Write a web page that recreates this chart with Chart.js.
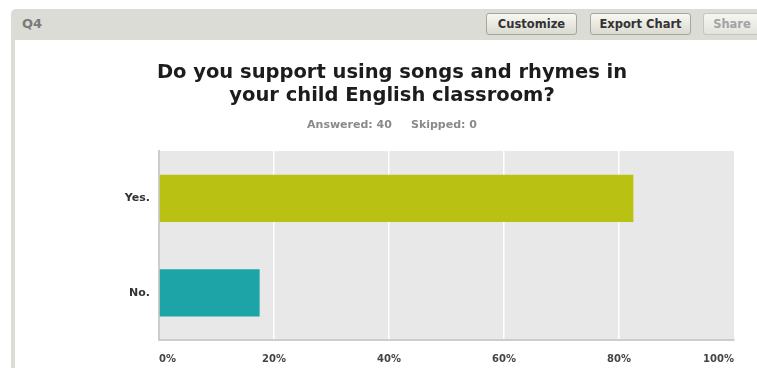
<!DOCTYPE html>
<html>
<head>
<meta charset="utf-8">
<script src="https://cdn.jsdelivr.net/npm/chart.js@4"></script>
<style>
  body{margin:0;background:#fff;width:757px;height:368px;overflow:hidden;position:relative;font-family:"DejaVu Sans",sans-serif;}
  .panel{position:absolute;left:11px;top:9px;width:800px;height:400px;background:#dcdcd6;border-radius:5px 5px 0 0;}
  .panel .inner{position:absolute;left:4px;top:31px;right:0;bottom:0;background:#fff;}
  .qnum{position:absolute;left:11px;top:8px;font-weight:bold;font-size:13px;line-height:13px;color:#7a7a7a;}
  .btn{position:absolute;top:4px;height:20px;box-sizing:content-box;border:1px solid #a6a69e;border-radius:3px;
       background:linear-gradient(#f8f8f3,#dadad1);display:flex;align-items:center;justify-content:center;
       font-weight:bold;font-size:11.5px;color:#333;}
  .btn.off{color:#a3a3a3;border-color:#c6c6be;background:linear-gradient(#f6f6f2,#e4e4dd);}
  #chart{position:absolute;left:15px;top:40px;}
</style>
</head>
<body>
<div class="panel">
  <div class="qnum">Q4</div>
  <div class="btn" style="left:475px;width:89px;">Customize</div>
  <div class="btn" style="left:579px;width:99px;">Export Chart</div>
  <div class="btn off" style="left:692px;width:56px;">Share</div>
  <div class="inner"></div>
</div>
<canvas id="chart" width="742" height="328"></canvas>
<script>
// answers
const categories = ["Yes.", "No."];
const responsePct = [82.5, 17.5];
const barColors = ["#b9c212", "#1ca4a6"];
const xTicks = [0, 20, 40, 60, 80, 100];
const titleLines = ["Do you support using songs and rhymes in", "your child English classroom?"];
const answered = 40;
const skipped = 0;

const FONT = "DejaVu Sans";

// grey plot area behind the bars
const plotBackground = {
  id: "plotBackground",
  beforeDraw(chart){
    const {ctx, chartArea: a} = chart;
    ctx.save();
    ctx.fillStyle = "#e8e8e8";
    ctx.fillRect(a.left, a.top, a.right - a.left, a.bottom - a.top);
    ctx.restore();
  }
};

new Chart(document.getElementById("chart"), {
  type: "bar",
  data: {
    labels: categories,
    datasets: [{
      data: responsePct,
      backgroundColor: barColors,
      borderWidth: 0,
      categoryPercentage: 1,
      barPercentage: 0.5
    }]
  },
  plugins: [plotBackground],
  options: {
    indexAxis: "y",
    responsive: false,
    animation: false,
    devicePixelRatio: 1,
    layout: {padding: {left: 35, right: 23, top: 0, bottom: 0}},
    plugins: {
      legend: {display: false},
      tooltip: {enabled: false},
      title: {
        display: true,
        text: titleLines,
        color: "#1c1c1c",
        font: {family: FONT, weight: "bold", size: 19.5, lineHeight: 1.2},
        padding: {top: 21, bottom: 4}
      },
      subtitle: {
        display: true,
        text: `Answered: ${answered}     Skipped: ${skipped}`,
        color: "#8a8a8a",
        font: {family: FONT, weight: "bold", size: 11, lineHeight: 1.2},
        padding: {top: 7, bottom: 19}
      }
    },
    scales: {
      x: {
        min: 0,
        max: 100,
        afterBuildTicks: s => { s.ticks = xTicks.map(v => ({value: v})); },
        afterFit: s => { s.height = 28; },
        grid: {
          drawTicks: false,
          lineWidth: 1.5,
          color: c => (c.tick && c.tick.value > 0 && c.tick.value < 100) ? "#ffffff" : "rgba(0,0,0,0)"
        },
        border: {display: true, color: "#cdcdcd", width: 2},
        ticks: {
          align: "inner",
          padding: 13,
          color: "#444",
          font: {family: FONT, weight: "bold", size: 10},
          callback: v => v + "%"
        }
      },
      y: {
        afterFit: s => { s.width = 109; },
        grid: {display: false, drawTicks: false},
        border: {display: true, color: "#cdcdcd", width: 2},
        ticks: {
          padding: 9,
          color: "#333",
          font: {family: FONT, weight: "bold", size: 11}
        }
      }
    }
  }
});
</script>
</body>
</html>
